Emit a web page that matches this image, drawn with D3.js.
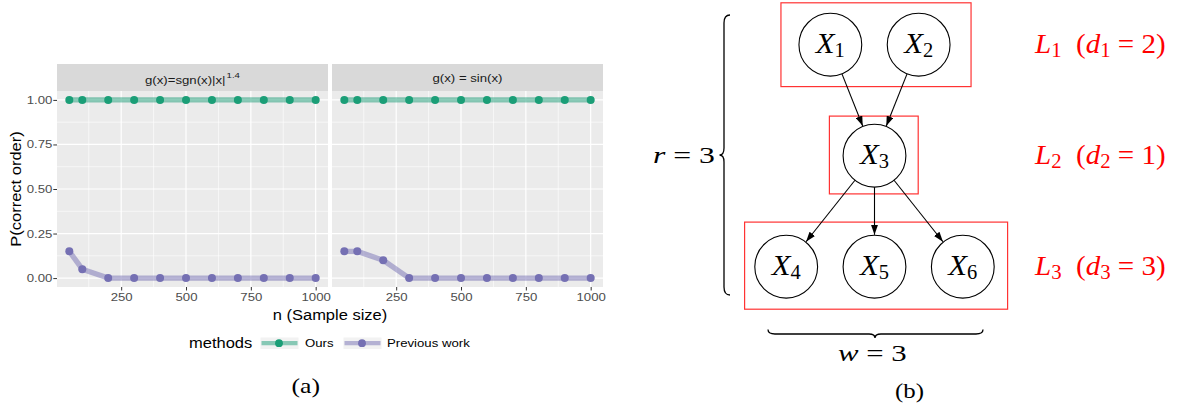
<!DOCTYPE html>
<html><head><meta charset="utf-8">
<script src="https://cdn.jsdelivr.net/npm/d3@7"></script>
<style>body{margin:0;background:#fff}svg{display:block}</style>
</head><body><svg id="c" width="1178" height="407"></svg>
<script>
// ---------- data (a) ----------
const sampleSizes = [50, 100, 200, 300, 400, 500, 600, 700, 800, 900, 1000];
const panelTitles = ["g(x)=sgn(x)|x|", "g(x) = sin(x)"];
const panelSuperscripts = ["1.4", ""];
const oursPanel1 = [1, 1, 1, 1, 1, 1, 1, 1, 1, 1, 1];
const prevPanel1 = [0.15, 0.05, 0, 0, 0, 0, 0, 0, 0, 0, 0];
const oursPanel2 = [1, 1, 1, 1, 1, 1, 1, 1, 1, 1, 1];
const prevPanel2 = [0.15, 0.15, 0.10, 0, 0, 0, 0, 0, 0, 0, 0];
const xTickVals = [250, 500, 750, 1000];
const xMinorVals = [125, 375, 625, 875];
const yTickVals = [0, 0.25, 0.5, 0.75, 1];
const yMinorVals = [0.125, 0.375, 0.625, 0.875];
const methodNames = ["Ours", "Previous work"];
const methodColors = ["#1B9E77", "#7570B3"];
// ---------- data (b) ----------
const dagNodes = [
  {id: 1, layer: 0, pos: -0.5}, {id: 2, layer: 0, pos: 0.5},
  {id: 3, layer: 1, pos: 0},
  {id: 4, layer: 2, pos: -1}, {id: 5, layer: 2, pos: 0}, {id: 6, layer: 2, pos: 1}
];
const dagEdges = [[1, 3], [2, 3], [3, 4], [3, 5], [3, 6]];
const layerIndex = [1, 2, 3];
const layerSizes = [2, 1, 3];
const depthR = 3, widthW = 3;

const svg = d3.select("#c");
const SANS = "'Liberation Sans', Arial, sans-serif";
const SERIF = "'Liberation Serif', 'Times New Roman', serif";
const SX = 1.2;

// ================= (a) ggplot-like facet chart =================
const panelX = [[57, 328], [332, 603]];
const panelTop = 91, panelBot = 287, stripTop = 64;
const y = d3.scaleLinear().domain([-0.05, 1.05]).range([panelBot, panelTop]);
const panelsData = [[oursPanel1, prevPanel1], [oursPanel2, prevPanel2]];

panelsData.forEach((pd, i) => {
  const [x0, x1] = panelX[i];
  const x = d3.scaleLinear().domain([2.5, 1047.5]).range([x0, x1]);
  const g = svg.append("g");
  g.append("rect").attr("x", x0).attr("y", panelTop).attr("width", x1 - x0)
    .attr("height", panelBot - panelTop).attr("fill", "#EBEBEB");
  // strip
  g.append("rect").attr("x", x0).attr("y", stripTop).attr("width", x1 - x0)
    .attr("height", panelTop - stripTop).attr("fill", "#D9D9D9");
  // grid
  g.selectAll(".ymin").data(yMinorVals).join("line")
    .attr("x1", x0).attr("x2", x1).attr("y1", d => y(d)).attr("y2", d => y(d))
    .attr("stroke", "#fff").attr("stroke-width", 0.6);
  g.selectAll(".xmin").data(xMinorVals).join("line")
    .attr("y1", panelTop).attr("y2", panelBot).attr("x1", d => x(d)).attr("x2", d => x(d))
    .attr("stroke", "#fff").attr("stroke-width", 0.6);
  g.selectAll(".ymaj").data(yTickVals).join("line")
    .attr("x1", x0).attr("x2", x1).attr("y1", d => y(d)).attr("y2", d => y(d))
    .attr("stroke", "#fff").attr("stroke-width", 1.2);
  g.selectAll(".xmaj").data(xTickVals).join("line")
    .attr("y1", panelTop).attr("y2", panelBot).attr("x1", d => x(d)).attr("x2", d => x(d))
    .attr("stroke", "#fff").attr("stroke-width", 1.2);
  // data
  const line = d3.line().x(d => x(d.n)).y(d => y(d.v));
  pd.forEach((vals, m) => {
    const pts = sampleSizes.map((n, k) => ({n, v: vals[k]}));
    g.append("path").datum(pts).attr("d", line).attr("fill", "none")
      .attr("stroke", methodColors[m]).attr("stroke-opacity", 0.5)
      .attr("stroke-width", 5.3).attr("stroke-linejoin", "round");
    g.selectAll(null).data(pts).join("circle")
      .attr("cx", d => x(d.n)).attr("cy", d => y(d.v)).attr("r", 4)
      .attr("fill", methodColors[m]);
  });
  // strip text
  const cx = (x0 + x1) / 2;
  const hasSup = panelSuperscripts[i] !== "";
  const st = g.append("text").attr("transform", `translate(${cx},${hasSup ? 84 : 82}) scale(${SX},1)`)
    .attr("text-anchor", "middle").attr("font-family", SANS).attr("font-size", 11)
    .attr("fill", "#1A1A1A");
  st.append("tspan").text(panelTitles[i]);
  if (hasSup) st.append("tspan").attr("dy", -6).attr("font-size", 8).attr("dx", 1).text(panelSuperscripts[i]);
  // x axis
  const ax = g.append("g").attr("transform", `translate(0,${panelBot})`)
    .call(d3.axisBottom(x).tickValues(xTickVals).tickSize(3.5).tickPadding(2.7).tickFormat(d3.format("d")));
  ax.select(".domain").remove();
  ax.selectAll(".tick line").attr("stroke", "#333").attr("stroke-width", 1);
  ax.selectAll(".tick text").attr("font-family", SANS).attr("font-size", 11).attr("fill", "#4D4D4D")
    .attr("transform", `scale(${SX},1)`);
  if (i === 0) {
    const ay = g.append("g").attr("transform", `translate(${x0},0)`)
      .call(d3.axisLeft(y).tickValues(yTickVals).tickSize(3.7).tickFormat(d3.format(".2f")));
    ay.select(".domain").remove();
    ay.selectAll(".tick line").attr("stroke", "#333").attr("stroke-width", 1);
    ay.selectAll(".tick text").attr("font-family", SANS).attr("font-size", 11).attr("fill", "#4D4D4D")
      .attr("x", 0).attr("transform", `translate(-4.7,0) scale(${SX},1)`);
  }
});

// axis titles
svg.append("text").attr("transform", `translate(330,319.5) scale(${SX},1)`)
  .attr("text-anchor", "middle").attr("font-family", SANS).attr("font-size", 13.75)
  .attr("fill", "#000").text("n (Sample size)");
svg.append("text").attr("transform", `translate(20.8,189) rotate(-90) scale(${SX},1)`)
  .attr("text-anchor", "middle").attr("font-family", SANS).attr("font-size", 13.75)
  .attr("fill", "#000").text("P(correct order)");

// legend
svg.append("text").attr("transform", `translate(189,348.3) scale(${SX},1)`)
  .attr("font-family", SANS).attr("font-size", 13.75).attr("fill", "#000").text("methods");
const keyX = [260.5, 343.5], labX = [305, 387];
methodNames.forEach((name, m) => {
  const kx = keyX[m];
  svg.append("rect").attr("x", kx).attr("y", 337.5).attr("width", 38).attr("height", 11.5).attr("fill", "#F2F2F2");
  svg.append("line").attr("x1", kx + 1).attr("x2", kx + 37).attr("y1", 343.2).attr("y2", 343.2)
    .attr("stroke", methodColors[m]).attr("stroke-opacity", 0.5).attr("stroke-width", 4.2);
  svg.append("circle").attr("cx", kx + 18.5).attr("cy", 343.2).attr("r", 3.9).attr("fill", methodColors[m]);
  svg.append("text").attr("transform", `translate(${labX[m]},347) scale(${SX},1)`)
    .attr("font-family", SANS).attr("font-size", 11).attr("fill", "#000").text(name);
});

// ================= (b) layered DAG =================
const R = 31.4;
const xNode = d3.scaleLinear().domain([-1, 1]).range([786.2, 962.8]);
const yLayer = d3.scaleLinear().domain([0, 2]).range([44.7, 266.7]);
const byId = new Map(dagNodes.map(d => [d.id, d]));

// layer boxes
const boxPad = [[18, 21, 10.5, 10.5], [13.7, 12.3, 8.2, 6.8], [10.2, 13.4, 13.2, 11.1]];
layerSizes.forEach((sz, l) => {
  const ns = dagNodes.filter(d => d.layer === l);
  const xs = ns.map(d => xNode(d.pos));
  const [pl, pr, pt, pb] = boxPad[l];
  const bx0 = d3.min(xs) - R - pl, bx1 = d3.max(xs) + R + pr;
  const by0 = yLayer(l) - R - pt, by1 = yLayer(l) + R + pb;
  svg.append("rect").attr("x", bx0).attr("y", by0).attr("width", bx1 - bx0).attr("height", by1 - by0)
    .attr("fill", "none").attr("stroke", "#FF3333").attr("stroke-width", 1.2);
});

// edges
const defs = svg.append("defs");
defs.append("marker").attr("id", "arr").attr("viewBox", "0 0 10 7").attr("refX", 10).attr("refY", 3.5)
  .attr("markerWidth", 10).attr("markerHeight", 7).attr("markerUnits", "userSpaceOnUse").attr("orient", "auto")
  .append("path").attr("d", "M0,0 L10,3.5 L0,7 Z").attr("fill", "#000");
dagEdges.forEach(([s, t]) => {
  const a = byId.get(s), b = byId.get(t);
  const ax = xNode(a.pos), ay = yLayer(a.layer), bx = xNode(b.pos), by = yLayer(b.layer);
  const dx = bx - ax, dy = by - ay, len = Math.hypot(dx, dy);
  const ux = dx / len, uy = dy / len;
  svg.append("line").attr("x1", ax + ux * R).attr("y1", ay + uy * R)
    .attr("x2", bx - ux * (R + 0.5)).attr("y2", by - uy * (R + 0.5))
    .attr("stroke", "#000").attr("stroke-width", 1.1).attr("marker-end", "url(#arr)");
});

// nodes
dagNodes.forEach(d => {
  const cx = xNode(d.pos), cy = yLayer(d.layer);
  svg.append("circle").attr("cx", cx).attr("cy", cy).attr("r", R)
    .attr("fill", "#fff").attr("stroke", "#000").attr("stroke-width", 1.1);
  const t = svg.append("text").attr("x", cx).attr("y", cy + 8.6).attr("text-anchor", "middle")
    .attr("font-family", SERIF).attr("font-size", 30).attr("fill", "#000")
    .attr("textLength", 29).attr("lengthAdjust", "spacingAndGlyphs");
  t.append("tspan").attr("font-style", "italic").text("X");
  t.append("tspan").attr("font-size", 20).attr("dy", 4).text(d.id);
});

// layer labels
layerSizes.forEach((sz, l) => {
  const t = svg.append("text").attr("x", 1035).attr("y", yLayer(l) + 8).attr("font-family", SERIF)
    .attr("font-size", 28).attr("fill", "#FF0000")
    .attr("textLength", 130.7).attr("lengthAdjust", "spacingAndGlyphs");
  t.append("tspan").attr("font-style", "italic").text("L");
  t.append("tspan").attr("font-size", 20).attr("dy", 4).text(layerIndex[l]);
  t.append("tspan").attr("dy", -4).text("\u2002(");
  t.append("tspan").attr("font-style", "italic").text("d");
  t.append("tspan").attr("font-size", 20).attr("dy", 4).text(layerIndex[l]);
  t.append("tspan").attr("dy", -4).text(" = " + sz + ")");
});

// braces
svg.append("path").attr("d", "M730,15 Q724,15 724,23 L724,148 Q724,155 719.5,155 Q724,155 724,162 L724,287 Q724,295 730,295")
  .attr("fill", "none").attr("stroke", "#000").attr("stroke-width", 1.3);
svg.append("path").attr("d", "M768,329.5 Q768,334 775,334 L869,334 Q875,334 875,338 Q875,334 881,334 L976,334 Q983,334 983,329.5")
  .attr("fill", "none").attr("stroke", "#000").attr("stroke-width", 1.3);

function mathLabel(x, yb, v, val, len) {
  const t = svg.append("text").attr("x", x).attr("y", yb).attr("font-family", SERIF)
    .attr("font-size", 23).attr("fill", "#000").attr("textLength", len).attr("lengthAdjust", "spacingAndGlyphs");
  t.append("tspan").attr("font-style", "italic").text(v);
  t.append("tspan").text(" = " + val);
}
mathLabel(653, 163, "r", depthR, 62);
mathLabel(838, 360.7, "w", widthW, 68.7);

// captions
svg.append("text").attr("x", 305.8).attr("y", 393).attr("text-anchor", "middle").attr("font-family", SERIF)
  .attr("font-size", 21).attr("textLength", 28.5).attr("lengthAdjust", "spacingAndGlyphs").text("(a)");
svg.append("text").attr("x", 909.5).attr("y", 397.5).attr("text-anchor", "middle").attr("font-family", SERIF)
  .attr("font-size", 21).attr("textLength", 29).attr("lengthAdjust", "spacingAndGlyphs").text("(b)");
</script></body></html>
